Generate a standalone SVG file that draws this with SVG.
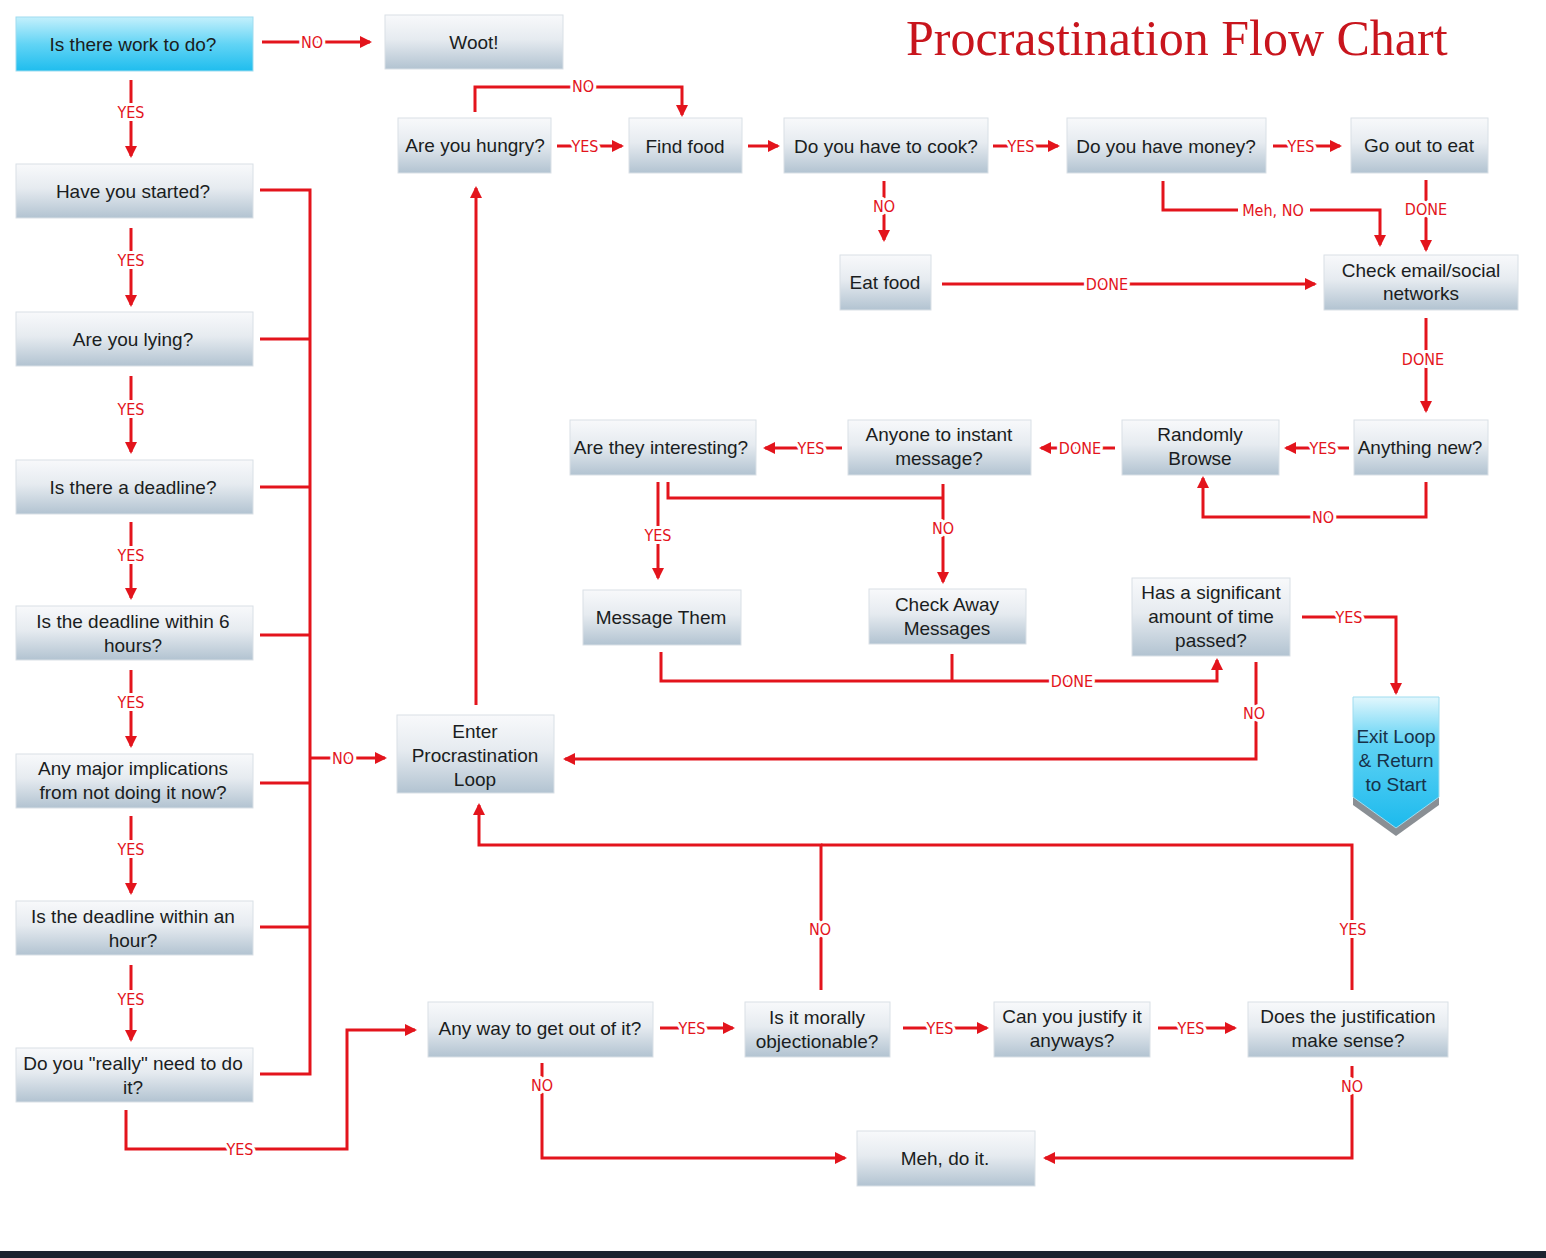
<svg xmlns="http://www.w3.org/2000/svg" width="1546" height="1258" viewBox="0 0 1546 1258">
<defs>
<linearGradient id="gBox" x1="0" y1="0" x2="0" y2="1">
<stop offset="0" stop-color="#f8f9fb"/>
<stop offset="0.45" stop-color="#e6ebf0"/>
<stop offset="1" stop-color="#b2c3d1"/>
</linearGradient>
<linearGradient id="gCyan" x1="0" y1="0" x2="0" y2="1">
<stop offset="0" stop-color="#c4f0fc"/>
<stop offset="0.5" stop-color="#62d4f5"/>
<stop offset="1" stop-color="#1fbdee"/>
</linearGradient>
<linearGradient id="gExit" x1="0" y1="0" x2="0" y2="1">
<stop offset="0" stop-color="#e2f7fd"/>
<stop offset="0.35" stop-color="#5fd2f4"/>
<stop offset="1" stop-color="#1cbaed"/>
</linearGradient>
<marker id="arr" viewBox="0 0 12 12" refX="10" refY="6" markerWidth="12" markerHeight="12" markerUnits="userSpaceOnUse" orient="auto">
<path d="M0,0 L12,6 L0,12 z" fill="#e3141c"/>
</marker>
</defs>
<style>
.box{fill:url(#gBox);stroke:#d9e0e6;stroke-width:1}
.cyan{fill:url(#gCyan);stroke:#9fdcef;stroke-width:1}
.t{font-family:"Liberation Sans",Arial,sans-serif;font-size:19px;fill:#1a1d21;text-anchor:middle;dominant-baseline:central}
.c{fill:none;stroke:#e3141c;stroke-width:3}
.a{marker-end:url(#arr)}
.l{font-family:"Liberation Sans Narrow","DejaVu Sans Condensed","Liberation Sans",Arial,sans-serif;font-size:16px;fill:#e3141c;text-anchor:middle;dominant-baseline:central;stroke:#ffffff;stroke-width:6px;paint-order:stroke;stroke-linejoin:round}
.title{font-family:"Liberation Serif","Times New Roman",serif;font-size:50px;fill:#c8151d}
</style>
<rect x="0" y="0" width="1546" height="1258" fill="#ffffff"/>
<rect x="0" y="1251" width="1546" height="7" fill="#1b2330"/>
<text class="title" x="906" y="55">Procrastination Flow Chart</text>

<g id="connectors">
<path class="c a" d="M262,42 H370"/>
<path class="c a" d="M131,80 V156"/>
<path class="c a" d="M131,228 V305"/>
<path class="c a" d="M131,376 V452"/>
<path class="c a" d="M131,522 V598"/>
<path class="c a" d="M131,670 V746"/>
<path class="c a" d="M131,816 V893"/>
<path class="c a" d="M131,965 V1040"/>
<path class="c" d="M260,190 H310 M260,339 H310 M260,487 H310 M260,635 H310 M260,783 H310 M260,927 H310 M260,1074 H310 M310,188.5 V1075.5"/>
<path class="c a" d="M310,758 H385"/>
<path class="c a" d="M126,1110 V1149 H347 V1030 H415"/>
<path class="c a" d="M475,112 V87 H682 V115"/>
<path class="c a" d="M557,146 H622"/>
<path class="c a" d="M748,146 H778"/>
<path class="c a" d="M993,146 H1058"/>
<path class="c a" d="M1273,146 H1340"/>
<path class="c a" d="M884,181 V240"/>
<path class="c a" d="M942,284 H1315"/>
<path class="c a" d="M1163,181 V210 H1380 V245"/>
<path class="c a" d="M1426,180 V250"/>
<path class="c a" d="M1426,318 V411"/>
<path class="c a" d="M1349,448 H1286"/>
<path class="c a" d="M1426,482 V517 H1203 V478"/>
<path class="c a" d="M1115,448 H1041"/>
<path class="c a" d="M842,448 H765"/>
<path class="c a" d="M658,482 V578"/>
<path class="c" d="M668,482 V498 H943"/>
<path class="c a" d="M943,484 V582"/>
<path class="c a" d="M661,652 V681 H1217 V660"/>
<path class="c" d="M952,654 V681"/>
<path class="c a" d="M1302,617 H1396 V693"/>
<path class="c a" d="M1256,662 V759 H565"/>
<path class="c a" d="M476,705 V188"/>
<path class="c a" d="M821,990 V845 H479 V805"/>
<path class="c" d="M1352,990 V845 H821"/>
<path class="c a" d="M660,1028 H733"/>
<path class="c a" d="M903,1028 H987"/>
<path class="c a" d="M1158,1028 H1235"/>
<path class="c a" d="M542,1063 V1158 H845"/>
<path class="c a" d="M1352,1066 V1158 H1045"/>

<rect x="1238" y="201" width="72" height="18" fill="#ffffff"/>
<text class="l" x="312" y="42">NO</text>
<text class="l" x="131" y="112">YES</text>
<text class="l" x="131" y="260">YES</text>
<text class="l" x="131" y="409">YES</text>
<text class="l" x="131" y="555">YES</text>
<text class="l" x="131" y="702">YES</text>
<text class="l" x="131" y="849">YES</text>
<text class="l" x="131" y="999">YES</text>
<text class="l" x="343" y="758">NO</text>
<text class="l" x="240" y="1149">YES</text>
<text class="l" x="583" y="86">NO</text>
<text class="l" x="585" y="146">YES</text>
<text class="l" x="1021" y="146">YES</text>
<text class="l" x="1301" y="146">YES</text>
<text class="l" x="884" y="206">NO</text>
<text class="l" x="1107" y="284">DONE</text>
<text class="l" x="1273" y="210">Meh, NO</text>
<text class="l" x="1426" y="209">DONE</text>
<text class="l" x="1423" y="359">DONE</text>
<text class="l" x="1323" y="448">YES</text>
<text class="l" x="1323" y="517">NO</text>
<text class="l" x="1080" y="448">DONE</text>
<text class="l" x="811" y="448">YES</text>
<text class="l" x="658" y="535">YES</text>
<text class="l" x="943" y="528">NO</text>
<text class="l" x="1072" y="681">DONE</text>
<text class="l" x="1349" y="617">YES</text>
<text class="l" x="1254" y="713">NO</text>
<text class="l" x="820" y="929">NO</text>
<text class="l" x="1353" y="929">YES</text>
<text class="l" x="692" y="1028">YES</text>
<text class="l" x="940" y="1028">YES</text>
<text class="l" x="1191" y="1028">YES</text>
<text class="l" x="542" y="1085">NO</text>
<text class="l" x="1352" y="1086">NO</text>
</g>

<g id="n-work"><rect class="cyan" x="16" y="17" width="237" height="54"/><text class="t" x="133" y="44">Is there work to do?</text></g>
<g id="n-woot"><rect class="box" x="385" y="15" width="178" height="54"/><text class="t" x="474" y="42">Woot!</text></g>
<g id="n-started"><rect class="box" x="16" y="164" width="237" height="54"/><text class="t" x="133" y="191">Have you started?</text></g>
<g id="n-lying"><rect class="box" x="16" y="312" width="237" height="54"/><text class="t" x="133" y="339">Are you lying?</text></g>
<g id="n-deadline"><rect class="box" x="16" y="460" width="237" height="54"/><text class="t" x="133" y="487">Is there a deadline?</text></g>
<g id="n-six"><rect class="box" x="16" y="606" width="237" height="54"/><text class="t" x="133" y="621">Is the deadline within 6</text><text class="t" x="133" y="645">hours?</text></g>
<g id="n-major"><rect class="box" x="16" y="754" width="237" height="54"/><text class="t" x="133" y="768">Any major implications</text><text class="t" x="133" y="792">from not doing it now?</text></g>
<g id="n-hour"><rect class="box" x="16" y="901" width="237" height="54"/><text class="t" x="133" y="916">Is the deadline within an</text><text class="t" x="133" y="940">hour?</text></g>
<g id="n-really"><rect class="box" x="16" y="1048" width="237" height="54"/><text class="t" x="133" y="1063">Do you "really" need to do</text><text class="t" x="133" y="1087">it?</text></g>

<g id="n-hungry"><rect class="box" x="398" y="118" width="153" height="55"/><text class="t" x="475" y="145">Are you hungry?</text></g>
<g id="n-find"><rect class="box" x="629" y="118" width="113" height="55"/><text class="t" x="685" y="146">Find food</text></g>
<g id="n-cook"><rect class="box" x="784" y="118" width="204" height="55"/><text class="t" x="886" y="146">Do you have to cook?</text></g>
<g id="n-money"><rect class="box" x="1067" y="118" width="199" height="55"/><text class="t" x="1166" y="146">Do you have money?</text></g>
<g id="n-goout"><rect class="box" x="1351" y="118" width="137" height="55"/><text class="t" x="1419" y="145">Go out to eat</text></g>
<g id="n-eat"><rect class="box" x="840" y="255" width="91" height="55"/><text class="t" x="885" y="282">Eat food</text></g>
<g id="n-email"><rect class="box" x="1324" y="255" width="194" height="55"/><text class="t" x="1421" y="270">Check email/social</text><text class="t" x="1421" y="293">networks</text></g>
<g id="n-new"><rect class="box" x="1354" y="420" width="134" height="55"/><text class="t" x="1420" y="447">Anything new?</text></g>
<g id="n-browse"><rect class="box" x="1122" y="420" width="157" height="55"/><text class="t" x="1200" y="434">Randomly</text><text class="t" x="1200" y="458">Browse</text></g>
<g id="n-anyone"><rect class="box" x="848" y="420" width="183" height="55"/><text class="t" x="939" y="434">Anyone to instant</text><text class="t" x="939" y="458">message?</text></g>
<g id="n-interesting"><rect class="box" x="570" y="420" width="186" height="55"/><text class="t" x="661" y="447">Are they interesting?</text></g>
<g id="n-message"><rect class="box" x="583" y="590" width="158" height="55"/><text class="t" x="661" y="617">Message Them</text></g>
<g id="n-away"><rect class="box" x="869" y="589" width="157" height="55"/><text class="t" x="947" y="604">Check Away</text><text class="t" x="947" y="628">Messages</text></g>
<g id="n-time"><rect class="box" x="1132" y="578" width="158" height="78"/><text class="t" x="1211" y="592">Has a significant</text><text class="t" x="1211" y="616">amount of time</text><text class="t" x="1211" y="640">passed?</text></g>
<g id="n-exit"><path d="M1353,705 H1439 V805 L1396,836 L1353,805 z" fill="#8a8f94"/><path d="M1353,697 H1439 V797 L1396,828 L1353,797 z" fill="url(#gExit)" stroke="#9fdcef" stroke-width="1"/><text class="t" x="1396" y="736" style="fill:#17324a">Exit Loop</text><text class="t" x="1396" y="760" style="fill:#17324a">&amp; Return</text><text class="t" x="1396" y="784" style="fill:#17324a">to Start</text></g>
<g id="n-enter"><rect class="box" x="397" y="715" width="157" height="78"/><text class="t" x="475" y="731">Enter</text><text class="t" x="475" y="755">Procrastination</text><text class="t" x="475" y="779">Loop</text></g>
<g id="n-anyway"><rect class="box" x="428" y="1002" width="225" height="55"/><text class="t" x="540" y="1028">Any way to get out of it?</text></g>
<g id="n-moral"><rect class="box" x="745" y="1002" width="145" height="55"/><text class="t" x="817" y="1017">Is it morally</text><text class="t" x="817" y="1041">objectionable?</text></g>
<g id="n-justify"><rect class="box" x="994" y="1002" width="156" height="55"/><text class="t" x="1072" y="1016">Can you justify it</text><text class="t" x="1072" y="1040">anyways?</text></g>
<g id="n-sense"><rect class="box" x="1248" y="1002" width="200" height="55"/><text class="t" x="1348" y="1016">Does the justification</text><text class="t" x="1348" y="1040">make sense?</text></g>
<g id="n-meh"><rect class="box" x="857" y="1131" width="178" height="55"/><text class="t" x="945" y="1158">Meh, do it.</text></g>
</svg>
